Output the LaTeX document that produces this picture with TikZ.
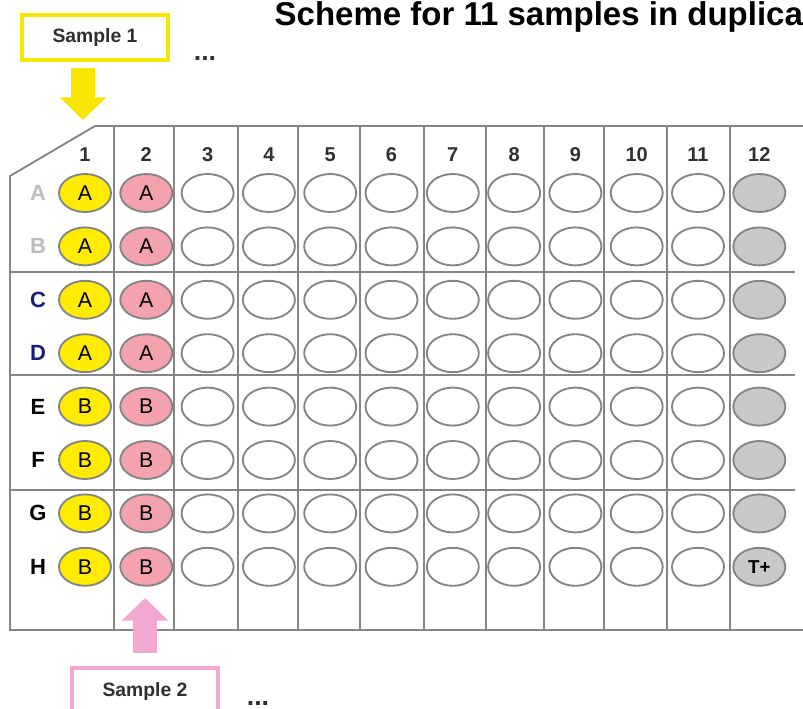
\documentclass[tikz,border=0pt]{standalone}
\usepackage{fontspec}
\setmainfont{Liberation Sans}
\usetikzlibrary{shapes.geometric,arrows.meta,positioning,calc}
\definecolor{wellyellow}{HTML}{FFEC00}
\definecolor{wellpink}{HTML}{F4A3AE}
\definecolor{wellgray}{HTML}{C8C8C8}
\definecolor{plategray}{HTML}{858585}
\definecolor{boxyellow}{HTML}{F7E600}
\definecolor{boxpink}{HTML}{F2A8D0}
\definecolor{rowlight}{HTML}{BDBDBD}
\definecolor{rownavy}{HTML}{1C1C7A}
\definecolor{textdark}{HTML}{303030}

\begin{document}
\begin{tikzpicture}[x=0.75pt,y=-0.75pt,
  well/.style={ellipse,draw=plategray,line width=1.4pt,minimum width=39pt,minimum height=28.5pt,inner sep=0pt,font=\fontsize{16}{16}\selectfont},
  plate/.style={draw=plategray,line width=1.4pt},
  collab/.style={font=\bfseries\fontsize{15}{15}\selectfont,text=textdark},
  rowlab/.style={font=\bfseries\fontsize{16.5}{16.5}\selectfont},
  sbox/.style={draw,line width=3pt,fill=white,minimum width=109.5pt,minimum height=34pt,inner sep=0pt,font=\bfseries\fontsize{14.5}{14.5}\selectfont,text=textdark},
  dots/.style={font=\bfseries\fontsize{20}{20}\selectfont,text=textdark,inner sep=1pt,anchor=base},
  sarrow/.style={line width=18.5pt,-{Triangle[width=34pt,length=17pt]}},
  title/.style={font=\bfseries\fontsize{24.75}{28}\selectfont}]
\fill[white] (0,0) rectangle (803,709);
\useasboundingbox (0,0) rectangle (803,709);
% plate outline and dividers
\draw[plate] (820,126) -- (95,126) -- (10,176) -- (10,630) -- (820,630);
\foreach \x in {114,174,238,298,360,424,486,544,604,667,730}{\draw[plate] (\x,126) -- (\x,630);}
\foreach \y in {272,375,490}{\draw[plate] (10,\y) -- (795,\y);}
% column numbers
\foreach \c in {1,...,12}{\node[collab] (n\c) at (85+\c*61.3-61.3,155) {\c};}
% wells
\foreach \row/\rc/\smp [count=\r from 0] in {A/rowlight/A,B/rowlight/A,C/rownavy/A,D/rownavy/A,E/black/B,F/black/B,G/black/B,H/black/B}{
  \pgfmathsetmacro{\yy}{193+\r*53.4}
  \node[rowlab,text=\rc] (lab\row) at (38,\yy) {\row};
  \node[well,fill=wellyellow] (w\row1) at (85,\yy) {\smp};
  \node[well,fill=wellpink] (w\row2) at (146.3,\yy) {\smp};
  \foreach \c in {3,...,11}{\node[well] (w\row\c) at (85+\c*61.3-61.3,\yy) {};}
}
\foreach \row [count=\r from 0] in {A,B,C,D,E,F,G}{
  \node[well,fill=wellgray] (w\row12) at (759.3,193+\r*53.4) {};
}
\node[well,fill=wellgray,font=\bfseries\fontsize{14}{14}\selectfont] (wH12) at (759.3,566.8) {T+};
% title and sample labels
\node[title,anchor=base west] (title) at (270,26) {Scheme for 11 samples in duplicate};
\node[sbox,draw=boxyellow] (s1) at (95,37.5) {Sample 1};
\node[dots] (d1) at (205,61) {...};
\node[sbox,draw=boxpink] (s2) at (145,691) {Sample 2};
\node[dots] (d2) at (258,705) {...};
% arrows
\coordinate (t1) at (83,120);
\coordinate (t2) at (145,598);
\draw[sarrow,boxyellow] ([yshift=-4.5pt]s1.south -| t1) -- (t1);
\draw[sarrow,boxpink] ([yshift=10pt]s2.north -| t2) -- (t2);
\end{tikzpicture}
\end{document}
